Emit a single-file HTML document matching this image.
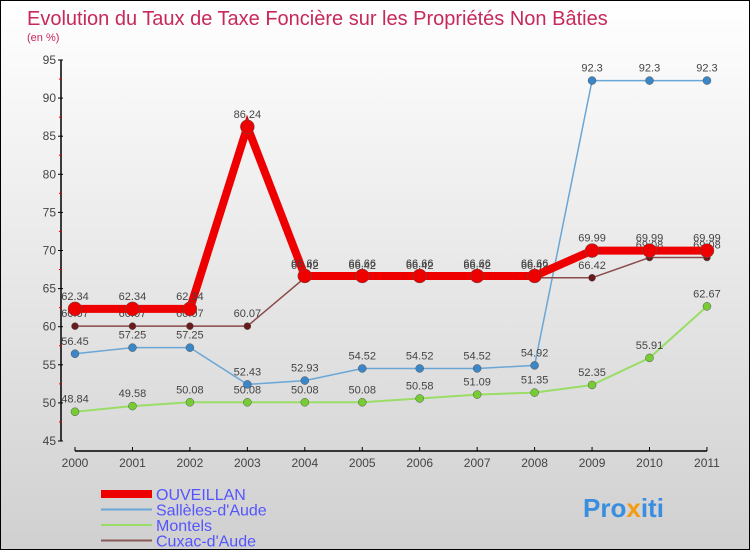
<!DOCTYPE html>
<html><head><meta charset="utf-8"><style>
body{margin:0}
#c{width:748px;height:548px;border:1px solid #000;background:linear-gradient(#fff,#d0d0d0);position:relative;overflow:hidden;font-family:"Liberation Sans",sans-serif}
svg text{font-family:"Liberation Sans",sans-serif}
</style></head><body>
<div id="c">
<svg id="s" width="748" height="548" xmlns="http://www.w3.org/2000/svg">
<text x="26" y="24" font-size="20" fill="#c8285a">Evolution du Taux de Taxe Foncière sur les Propriétés Non Bâties</text>
<text x="26" y="40" font-size="11" fill="#c8285a">(en %)</text>
<g id="axes"></g><g id="series"></g><g id="legend"></g>
<text x="582" y="516" font-size="26" font-weight="bold" fill="#3a8ee0">Pro<tspan fill="#f39c12">x</tspan>iti</text>
</svg></div>
<script>
const years=["2000","2001","2002","2003","2004","2005","2006","2007","2008","2009","2010","2011"];
const yTicks=[45,50,55,60,65,70,75,80,85,90,95];
const ouveillan=[62.34,62.34,62.34,86.24,66.66,66.66,66.66,66.66,66.66,69.99,69.99,69.99];
const salleles=[56.45,57.25,57.25,52.43,52.93,54.52,54.52,54.52,54.92,92.3,92.3,92.3];
const montels=[48.84,49.58,50.08,50.08,50.08,50.08,50.58,51.09,51.35,52.35,55.91,62.67];
const cuxac=[60.07,60.07,60.07,60.07,66.42,66.42,66.42,66.42,66.42,66.42,69.08,69.08];
const NS="http://www.w3.org/2000/svg";
const X=i=>74+i*57.45, Y=v=>440-(v-45)*7.62;
function mk(p,tag,a){const e=document.createElementNS(NS,tag);for(const k in a)e.setAttribute(k,a[k]);p.appendChild(e);return e;}
const ax=document.getElementById('axes');
let l=mk(ax,'line',{x1:60,y1:Y(95),x2:60,y2:Y(45),stroke:'#000','stroke-width':1.5});


l=mk(ax,'line',{x1:74,y1:450,x2:X(11),y2:450,stroke:'#000','stroke-width':1.5});


yTicks.forEach((v,i)=>{
 mk(ax,'line',{x1:57,y1:Y(v),x2:62,y2:Y(v),stroke:'#000'});
 if(i<yTicks.length-1)mk(ax,'line',{x1:58,y1:Y(v+2.5),x2:61,y2:Y(v+2.5),stroke:'#d00'});
 const t=mk(ax,'text',{x:55,y:Y(v)+4,'text-anchor':'end','font-size':12,fill:'#444'});
 t.textContent=v;
 
 
});
years.forEach((y,i)=>{
 mk(ax,'line',{x1:X(i),y1:446,x2:X(i),y2:450,stroke:'#000'});
 const t=mk(ax,'text',{x:X(i),y:466,'text-anchor':'middle','font-size':12,fill:'#444'});
 t.textContent=y;
 
 
});
const defs=[
 {d:montels,c:'#99dd66',dc:'#77cc33',w:2,r:4,n:'montels'},
 {d:salleles,c:'#6aa6d6',dc:'#3a86c6',w:1.5,r:4,n:'salleles'},
 {d:cuxac,c:'#8a4a4a',dc:'#6a1a1a',w:1.5,r:3.5,n:'cuxac'},
 {d:ouveillan,c:'#ee0000',dc:'#ee0000',w:8,r:7,n:'ouveillan'}];
const sg=document.getElementById('series');
defs.forEach(s=>{
 const g=mk(sg,'g',{});
 
 
 const p=mk(g,'polyline',{points:s.d.map((v,i)=>X(i)+','+Y(v)).join(' '),fill:'none',stroke:s.c,'stroke-width':s.w});
 
 
 s.d.forEach((v,i)=>{
  const c=mk(g,'circle',{cx:X(i),cy:Y(v),r:s.r,fill:s.dc,stroke:'#555','stroke-width':0.5});
  
  
  const t=mk(g,'text',{x:X(i),y:Y(v)-9,'text-anchor':'middle','font-size':11,fill:'#444'});
  t.textContent=v;
  
  
 });
});
const lg=document.getElementById('legend');
[['OUVEILLAN','#ee0000',8],['Sallèles-d\'Aude','#6aa6d6',2],['Montels','#99dd66',2],['Cuxac-d\'Aude','#8a5a5a',2]].forEach((e,i)=>{
 const y=493+i*15.5;
 const ln=mk(lg,'line',{x1:100,y1:y,x2:151,y2:y,stroke:e[1],'stroke-width':e[2]});
 
 
 const t=mk(lg,'text',{x:155,y:y+6,'font-size':16,fill:'#5555ff'});
 t.textContent=e[0];
 
 
});
</script></body></html>
